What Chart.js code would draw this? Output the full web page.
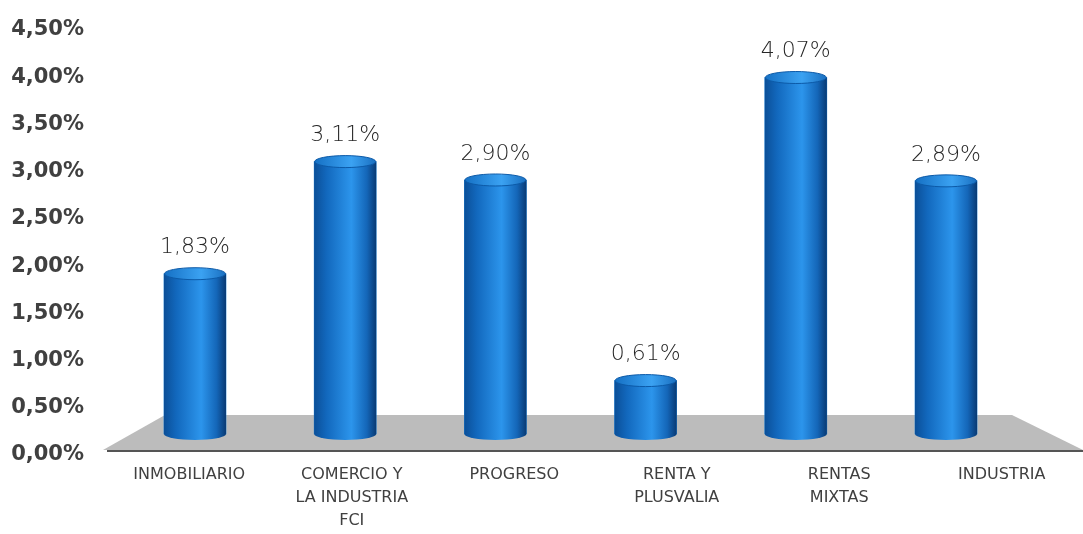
<!DOCTYPE html>
<html>
<head>
<meta charset="utf-8">
<script src="https://cdn.jsdelivr.net/npm/chart.js@4"></script>
<style>
  html, body { margin: 0; padding: 0; background: #fff; }
  #wrap { width: 1083px; height: 534px; position: relative; }
</style>
</head>
<body>
<div id="wrap"><canvas id="chart-fondos"></canvas></div>
<script>
const categories = [
    'INMOBILIARIO',
    ['COMERCIO Y', 'LA INDUSTRIA', 'FCI'],
    'PROGRESO',
    ['RENTA Y', 'PLUSVALIA'],
    ['RENTAS', 'MIXTAS'],
    'INDUSTRIA',
];
const rendimientos = [1.83, 3.11, 2.90, 0.61, 4.07, 2.89];
const yTicks = [0, 0.5, 1, 1.5, 2, 2.5, 3, 3.5, 4, 4.5];

const textColor = '#404040';
const fmt = (v) => Number(v).toFixed(2).replace('.', ',') + '%';

// gray floor under the bars (fake 3D base)
const floorPlugin = {
    id: 'floor',
    beforeDraw(chart) {
        const { ctx, chartArea: a } = chart;
        ctx.save();
        ctx.fillStyle = '#bcbcbc';
        ctx.beginPath();
        ctx.moveTo(a.left - 5, a.bottom - 1);
        ctx.lineTo(a.left + 57, a.bottom - 36);
        ctx.lineTo(a.right - 71, a.bottom - 36);
        ctx.lineTo(a.right, a.bottom - 1);
        ctx.closePath();
        ctx.fill();
        ctx.restore();
    },
};

const bodyGradient = (ctx, left, width) => {
    const g = ctx.createLinearGradient(left, 0, left + width, 0);
    g.addColorStop(0, '#0b4f98');
    g.addColorStop(0.2, '#1268bd');
    g.addColorStop(0.6, '#2c95ec');
    g.addColorStop(0.85, '#1466b8');
    g.addColorStop(1, '#093a74');
    return g;
};

// cylinder look: shaded body, rounded bottom, top ellipse, value label
const cylinderPlugin = {
    id: 'cylinder',
    afterDatasetsDraw(chart) {
        const { ctx } = chart;
        const ry = 6;
        chart.getDatasetMeta(0).data.forEach((bar, i) => {
            const rx = bar.width / 2;
            const left = bar.x - rx;
            ctx.save();
            ctx.fillStyle = bodyGradient(ctx, left, bar.width);
            ctx.fillRect(left, bar.y, bar.width, bar.base - bar.y);
            ctx.beginPath();
            ctx.ellipse(bar.x, bar.base, rx, ry, 0, 0, Math.PI);
            ctx.fill();
            const tg = ctx.createLinearGradient(left, 0, left + bar.width, 0);
            tg.addColorStop(0, '#1570c4');
            tg.addColorStop(0.6, '#3ba2f2');
            tg.addColorStop(1, '#1a6fc0');
            ctx.fillStyle = tg;
            ctx.strokeStyle = '#0c5aa8';
            ctx.lineWidth = 1;
            ctx.beginPath();
            ctx.ellipse(bar.x, bar.y, rx - 0.5, ry, 0, 0, Math.PI * 2);
            ctx.fill();
            ctx.stroke();
            ctx.fillStyle = '#262626';
            ctx.font = '200 22px "DejaVu Sans"';
            ctx.textAlign = 'center';
            ctx.textBaseline = 'middle';
            ctx.fillText(fmt(rendimientos[i]), bar.x, bar.y - ry - 20);
            ctx.restore();
        });
    },
};

document.addEventListener('DOMContentLoaded', () => {
    const el = document.getElementById('chart-fondos');
    new Chart(el, {
        type: 'bar',
        data: {
            labels: categories,
            datasets: [{
                label: 'Rendimiento',
                data: rendimientos.map((v, i) => ({ x: i, y: v })),
                xAxisID: 'xb',
                yAxisID: 'yb',
                backgroundColor: '#1a7fd6',
                borderWidth: 0,
                barThickness: 62,
            }],
        },
        options: {
            responsive: true,
            maintainAspectRatio: false,
            animation: false,
            layout: { padding: { top: 26, right: 0, bottom: 0, left: 0 } },
            plugins: {
                legend: { display: false },
                tooltip: { enabled: false },
            },
            scales: {
                x: {
                    type: 'category',
                    offset: true,
                    afterFit: (axis) => { axis.height = 83; },
                    grid: { display: false, drawTicks: false },
                    border: { display: true, color: '#555555', width: 2 },
                    ticks: {
                        color: textColor,
                        font: { family: '"DejaVu Sans"', size: 16, lineHeight: 1.45 },
                        padding: 12,
                        maxRotation: 0,
                        autoSkip: false,
                    },
                },
                xb: {
                    type: 'linear',
                    display: false,
                    offset: false,
                    min: -0.579,
                    max: 5.912,
                },
                y: {
                    min: 0,
                    max: 4.5,
                    afterBuildTicks: (axis) => { axis.ticks = yTicks.map((v) => ({ value: v })); },
                    afterFit: (axis) => {
                        axis.width = 108;
                        axis.paddingTop = 0;
                        axis.paddingBottom = 0;
                    },
                    grid: { display: false, drawTicks: false },
                    border: { display: false },
                    ticks: {
                        color: textColor,
                        font: { family: '"DejaVu Sans"', size: 21, weight: 'bold' },
                        padding: 24,
                        labelOffset: 4,
                        callback: (v) => fmt(v),
                    },
                },
                yb: {
                    type: 'linear',
                    display: false,
                    min: -0.194,
                    max: 4.658,
                },
            },
        },
        plugins: [floorPlugin, cylinderPlugin],
    });
});
</script>
</body>
</html>
